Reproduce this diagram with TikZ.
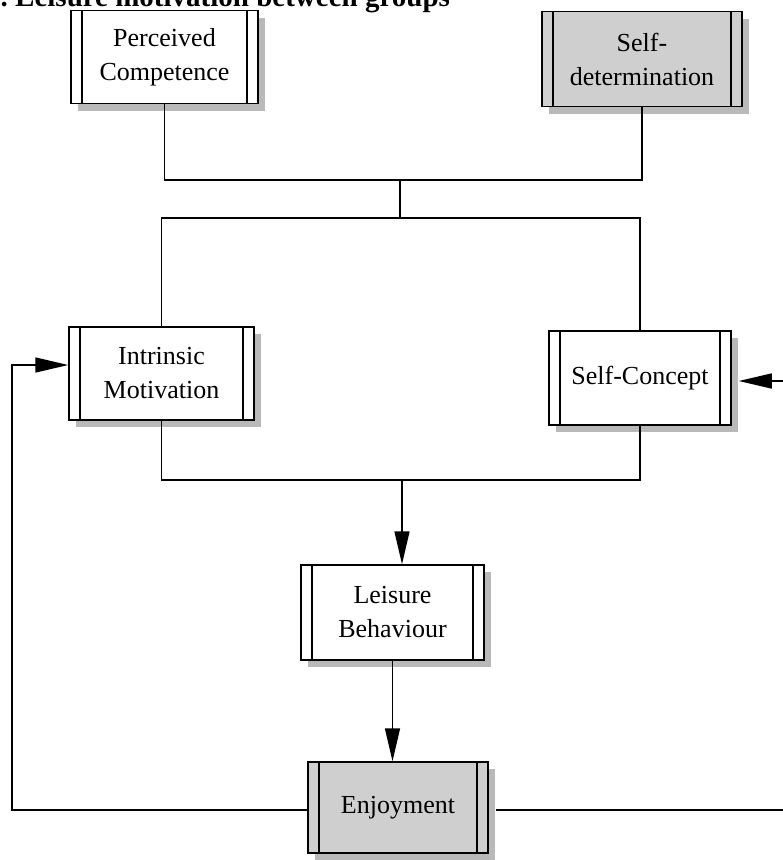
\documentclass[tikz,border=0pt]{standalone}
\usepackage{fontspec}
\setmainfont{Liberation Serif}
\usetikzlibrary{shadows,arrows.meta}
\begin{document}
\begin{tikzpicture}[x=1pt,y=-1pt,
 bx/.style={draw, line width=1.5pt, fill=white, align=center, inner sep=0pt,
   font=\fontsize{26}{34}\selectfont,
   drop shadow={shadow xshift=7pt, shadow yshift=-7pt, fill=gray!55, opacity=1},
   path picture={
     \draw[line width=1.5pt] ([xshift=11pt]path picture bounding box.north west) -- ([xshift=11pt]path picture bounding box.south west);
     \draw[line width=1.5pt] ([xshift=-11pt]path picture bounding box.north east) -- ([xshift=-11pt]path picture bounding box.south east);}},
 gbx/.style={bx, fill=gray!38},
 ln/.style={line width=1.5pt},
 arr/.style={ln, -{Triangle[length=33pt,width=15pt]}}]
\useasboundingbox (0,0) rectangle (783,860);

\node[anchor=base west, font=\bfseries\fontsize{29}{32}\selectfont, inner sep=0pt] (title) at (-14,6) {6.\ Leisure motivation between groups};

\node[bx, minimum width=187pt, minimum height=93pt] (pc) at (164.5,57) {Perceived\\Competence};
\node[gbx, minimum width=200pt, minimum height=95pt] (sd) at (642,59) {Self-\\determination};
\node[bx, minimum width=185pt, minimum height=93pt] (im) at (161.5,373.5) {Intrinsic\\Motivation};
\node[bx, minimum width=182pt, minimum height=94pt] (sc) at (640,378) {Self-Concept};
\node[bx, minimum width=183pt, minimum height=95pt] (lb) at (392.5,612.5) {Leisure\\Behaviour};
\node[gbx, minimum width=180pt, minimum height=91pt] (en) at (398,807.5) {Enjoyment};

\coordinate (j1) at (400,180);
\coordinate (j2) at (400,218);
\coordinate (j3) at (402,480);
\coordinate (l1) at (12,810);
\coordinate (l2) at (12,365);
\coordinate (r1) at (795,810);
\coordinate (r2) at (795,381);

\draw[ln] (pc.south) -- (pc.south |- j1) -| (sd.south);
\draw[ln] (j1) -- (j2);
\draw[ln] (im.north) |- (j2) -| (sc.north);
\draw[ln] (im.south) |- (j3) -| (sc.south);
\draw[arr] (j3) -- (j3 |- lb.north);
\draw[arr] (lb.south) -- (lb.south |- en.north);
\draw[arr] (en.west |- l1) -- (l1) -- (l2) -- (im.west |- l2);
\draw[arr] ([xshift=7pt]en.east |- r1) -- (r1) -- (r2) -- ([xshift=7pt]sc.east |- r2);
\end{tikzpicture}
\end{document}
